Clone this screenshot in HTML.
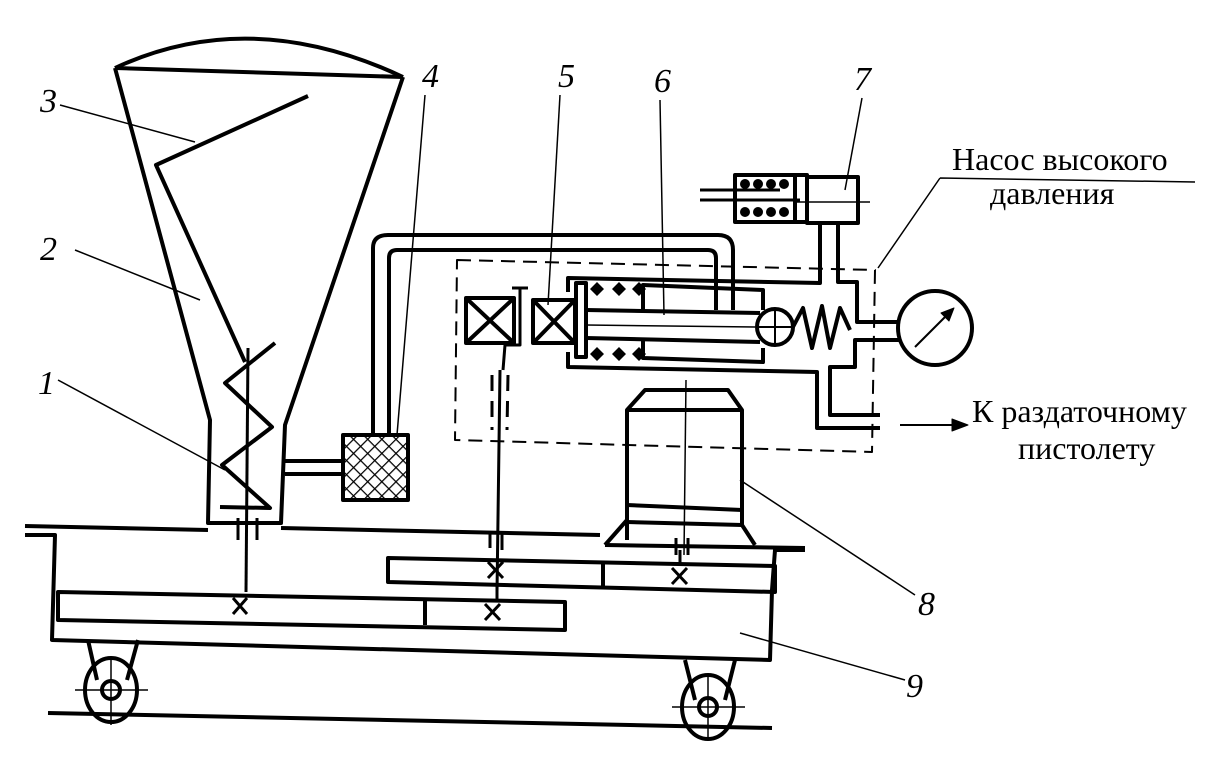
<!DOCTYPE html>
<html><head><meta charset="utf-8"><style>
html,body{margin:0;padding:0;background:#fff;}
svg{display:block}
text{font-family:"Liberation Serif",serif;fill:#000}
.n{font-style:italic;font-size:34px}
.t{font-size:32px}
</style></head><body>
<svg width="1220" height="763" viewBox="0 0 1220 763" xmlns="http://www.w3.org/2000/svg">
<defs>
<pattern id="h" width="10" height="10" patternUnits="userSpaceOnUse" patternTransform="rotate(45)">
<line x1="0" y1="0" x2="0" y2="10" stroke="#000" stroke-width="2.5"/>
<line x1="0" y1="0" x2="10" y2="0" stroke="#000" stroke-width="2.5"/>
</pattern>
</defs>
<g fill="none" stroke="#000" stroke-width="4" stroke-linejoin="round">
<!-- hopper -->
<path d="M115,68 Q250,5 403,77"/>
<path d="M115,68 L403,77"/>
<path d="M115,68 L210,420 L208,523 L281,523 L285,425 L403,77"/>
<path d="M308,96 L156,165 L245,362"/>
<!-- auger -->
<path d="M275,343 L225,383 L272,427 L222,465 L270,508 L220,507"/>
<line x1="248" y1="348" x2="246" y2="592" stroke-width="3"/>
<line x1="238" y1="518" x2="238" y2="540" stroke-width="3"/>
<line x1="257" y1="518" x2="257" y2="540" stroke-width="3"/>
<!-- pipe to box 4 -->
<path d="M285,461 L343,461 M285,474 L343,474"/>
<rect x="343" y="435" width="65" height="65" fill="url(#h)"/>
<path d="M373,435 L373,248 Q373,235 388,235 L718,235 Q733,235 733,250 L733,310"/>
<path d="M389,435 L389,258 Q389,250 397,250 L708,250 Q716,250 716,258 L716,310"/>
<!-- dashed box -->
<path d="M457,260 L875,270 L872,452 L455,440 Z" stroke-width="2" stroke-dasharray="14,8"/>
<!-- crossed boxes -->
<rect x="466" y="298" width="48" height="45"/>
<path d="M466,298 L514,343 M514,298 L466,343"/>
<rect x="533" y="300" width="42" height="43"/>
<path d="M533,300 L575,343 M575,300 L533,343"/>
<path d="M512,288 L528,288 M520,288 L520,345 L505,345 L503,370 M500,370 L497,592" stroke-width="3"/>
<path d="M492,375 L492,430 M508,375 L507,430" stroke-width="3" stroke-dasharray="16,10"/>
<!-- pump body -->
<rect x="576" y="283" width="10" height="74"/>
<path d="M568,292 L568,278 L820,283 L820,223"/>
<path d="M838,223 L838,282 L857,282 L857,322 L900,322"/>
<path d="M900,340 L855,340 L855,367 L830,367 L830,415 L880,415"/>
<path d="M568,352 L568,367 L817,372 L817,428 L880,428"/>
<path d="M643,310 L643,285 L763,290 L763,310"/>
<path d="M586,310 L760,313 M586,338 L760,342" />
<path d="M586,325 L755,327" stroke-width="1.5"/>
<path d="M643,340 L643,358 L763,362 L763,348"/>
<circle cx="775" cy="327" r="18"/>
<path d="M757,327 L793,327 M775,309 L775,345" stroke-width="2"/>
<path d="M793,327 L803,308 L812,348 L822,306 L830,348 L840,308 L850,330"/>
<g fill="#000" stroke="none">
<path d="M590,289 l7,-7 l7,7 l-7,7z M612,289 l7,-7 l7,7 l-7,7z M632,289 l7,-7 l7,7 l-7,7z"/>
<path d="M590,354 l7,-7 l7,7 l-7,7z M612,354 l7,-7 l7,7 l-7,7z M632,354 l7,-7 l7,7 l-7,7z"/>
</g>
<!-- gauge -->
<circle cx="935" cy="328" r="37"/>
<line x1="915" y1="347" x2="952" y2="310" stroke-width="2"/>
<path d="M954,308 L941,313 L949,321 Z" fill="#000" stroke-width="1"/>
<!-- cylinder 7 -->
<rect x="735" y="175" width="60" height="47"/>
<rect x="795" y="175" width="12" height="47"/>
<rect x="807" y="177" width="51" height="46"/>
<path d="M700,190 L780,190 M700,200 L800,200" stroke-width="3"/>
<path d="M795,202 L870,202" stroke-width="1.5"/>
<g fill="#000" stroke="none">
<circle cx="745" cy="184" r="5"/><circle cx="758" cy="184" r="5"/><circle cx="771" cy="184" r="5"/><circle cx="784" cy="184" r="5"/>
<circle cx="745" cy="212" r="5"/><circle cx="758" cy="212" r="5"/><circle cx="771" cy="212" r="5"/><circle cx="784" cy="212" r="5"/>
</g>
<!-- motor 8 -->
<path d="M627,540 L627,410 L645,390 L728,390 L742,410 L742,520"/>
<line x1="627" y1="410" x2="742" y2="410"/>
<path d="M627,505 L742,510 L742,525 L627,522"/>
<path d="M627,520 L605,545 M742,525 L755,545"/>
<line x1="686" y1="380" x2="684" y2="555" stroke-width="1.5"/>
<!-- frame -->
<path d="M25,526 L208,530 M281,528 L600,535 M605,545 L805,548"/>
<path d="M25,535 L55,535 L52,640 L770,660 L772,590 L775,550 L805,550"/>
<path d="M490,532 L490,548 M502,532 L502,550 M676,538 L676,555 M688,538 L688,555" stroke-width="3"/>
<!-- gear boxes -->
<path d="M58,592 L565,602 L565,630 L58,620 Z"/>
<line x1="425" y1="598" x2="425" y2="625"/>
<path d="M388,558 L775,566 L775,592 L388,582 Z"/>
<line x1="603" y1="562" x2="603" y2="588"/>
<path d="M497,585 L497,602" stroke-width="3"/>
<line x1="680" y1="550" x2="680" y2="566" stroke-width="3"/>
<g stroke-width="3">
<path d="M233,598 L247,614 M247,598 L233,614"/>
<path d="M488,562 L503,578 M503,562 L488,578"/>
<path d="M672,568 L687,584 M687,568 L672,584"/>
<path d="M485,604 L500,620 M500,604 L485,620"/>
</g>
<!-- wheels -->
<path d="M88,640 L97,680 M138,640 L127,680"/>
<ellipse cx="111" cy="690" rx="26" ry="32"/>
<circle cx="111" cy="690" r="9"/>
<path d="M75,690 L148,690 M111,660 L111,725" stroke-width="1.5"/>
<path d="M685,660 L695,700 M735,660 L725,700"/>
<ellipse cx="708" cy="707" rx="26" ry="32"/>
<circle cx="708" cy="707" r="9"/>
<path d="M672,707 L745,707 M708,675 L708,740" stroke-width="1.5"/>
<path d="M48,713 L772,728"/>
<!-- leaders -->
<g stroke-width="1.5">
<path d="M60,105 L195,142"/>
<path d="M75,250 L200,300"/>
<path d="M58,380 L225,470"/>
<path d="M425,95 L397,435"/>
<path d="M560,95 L548,305"/>
<path d="M660,100 L664,315"/>
<path d="M862,98 L845,190"/>
<path d="M940,178 L1195,182 M940,178 L878,268"/>
<path d="M740,480 L915,595"/>
<path d="M740,633 L905,680"/>
</g>
<path d="M900,425 L955,425" stroke-width="2"/>
<path d="M968,425 L952,419 L952,431 Z" fill="#000" stroke-width="1"/>
</g>
<text class="n" x="40" y="112">3</text>
<text class="n" x="40" y="260">2</text>
<text class="n" x="38" y="394">1</text>
<text class="n" x="422" y="87">4</text>
<text class="n" x="558" y="87">5</text>
<text class="n" x="654" y="92">6</text>
<text class="n" x="854" y="90">7</text>
<text class="n" x="918" y="615">8</text>
<text class="n" x="906" y="697">9</text>
<text class="t" x="952" y="170">Насос высокого</text>
<text class="t" x="990" y="204">давления</text>
<text class="t" x="972" y="422">К раздаточному</text>
<text class="t" x="1018" y="459">пистолету</text>
</svg>
</body></html>
